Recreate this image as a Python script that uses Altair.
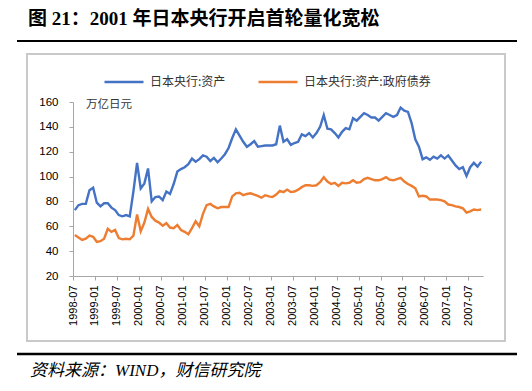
import json
import altair as alt
import pandas as pd

# ---- data -------------------------------------------------------------
months = [p.strftime("%Y-%m") for p in pd.period_range("1998-07", periods=112, freq="M")]

assets = [
    73, 77, 78, 78, 89, 91, 79, 76, 78.5, 78.5,
    75, 73, 69, 68, 69, 68, 88, 111, 90.5, 94.5,
    106.5, 80, 83.5, 84, 81, 88, 86, 94, 104, 106,
    107.5, 110, 114.5, 112, 114, 117, 116, 112.5, 115, 111.5,
    114.5, 118, 123, 131, 138, 133, 128, 124, 126, 128.5,
    124, 124.5, 125, 125, 125, 126, 141, 128, 130, 125.5,
    127, 128, 134, 132.5, 135, 131.5, 135, 140, 149.5, 138.5,
    138, 135, 131.5, 136, 139, 138, 147, 145, 148, 151,
    149.5, 147.5, 147.5, 145, 148, 151, 149.5, 148, 149.5, 155.5,
    153, 152, 143, 130, 124, 114, 115.5, 113.5, 116, 114.5,
    117, 114.5, 117, 113, 109, 106, 107.5, 100.5, 107.5, 111,
    108, 112,
]

govt_bonds = [
    53, 51, 49, 50, 52.5, 51.5, 47.5, 48, 50, 58,
    55.5, 57, 50.5, 49.5, 50, 49.5, 52.5, 69.5, 56, 63,
    74, 67.5, 64.5, 63, 60.5, 62.5, 59, 58.5, 61, 57,
    55.5, 53.5, 58.5, 64, 60, 70, 77, 78, 76, 74.5,
    75.5, 75.5, 75.5, 84, 86.5, 87, 85, 86, 86.5, 85.5,
    84.5, 83, 85, 84, 83.5, 85.5, 88.5, 87.5, 89.5, 87.5,
    88, 89.5, 91.5, 93, 93, 92.5, 93, 95.5, 99.5, 96,
    94, 95, 92.5, 95, 94.5, 95, 97, 95, 95.5, 98,
    99, 98, 97, 97, 98, 99.5, 97.5, 97, 98, 99,
    96, 94, 92.5, 90.5, 84, 84.5, 84, 81.5, 81.5, 81.5,
    81, 80, 77.5, 77, 76, 75.5, 74.5, 71, 72, 73.5,
    73, 73.5,
]

series_names = ["日本央行:资产", "日本央行:资产:政府债券"]
series_colors = ["#4472C4", "#ED7D31"]
y_ticks = [20, 40, 60, 80, 100, 120, 140, 160]
x_tick_pos = list(range(0, 109, 6))
x_tick_labels = [months[i] for i in x_tick_pos]

title_text = "图 21：2001 年日本央行开启首轮量化宽松"
unit_text = "万亿日元"
source_text = "资料来源：WIND，财信研究院"

# ---- table --------------------------------------------------------------
rows = []
for i, m in enumerate(months):
    rows.append({"pos": i + 0.5, "month": m, "value": assets[i], "series": series_names[0]})
for i, m in enumerate(months):
    rows.append({"pos": i + 0.5, "month": m, "value": govt_bonds[i], "series": series_names[1]})
df = pd.DataFrame(rows)

label_expr = json.dumps(x_tick_labels) + "[round(datum.value / 6)]"

AX_COLOR = "#a6a6a6"
NUM_FONT = "Liberation Sans"
CJK_FONT = "Noto Sans CJK SC"
FRAME = "#c9c9c9"

lines = alt.Chart(df).mark_line(strokeWidth=2.4).encode(
    x=alt.X(
        "pos:Q",
        scale=alt.Scale(domain=[0, 112], nice=False, zero=False),
        axis=alt.Axis(
            values=x_tick_pos, labelExpr=label_expr, labelAngle=270,
            tickSize=4, labelPadding=5, title=None, grid=False,
            domainColor=AX_COLOR, tickColor=AX_COLOR, labelColor="#000000",
            labelFont=NUM_FONT, labelFontSize=11, labelFlush=False,
            labelOverlap=False, labelBound=False,
        ),
    ),
    y=alt.Y(
        "value:Q",
        scale=alt.Scale(domain=[20, 160], nice=False, zero=False),
        axis=alt.Axis(
            values=y_ticks, tickSize=4, labelPadding=11, title=None, grid=False,
            domainColor=AX_COLOR, tickColor=AX_COLOR, labelColor="#000000",
            labelFont=NUM_FONT, labelFontSize=11.5,
        ),
    ),
    color=alt.Color(
        "series:N",
        scale=alt.Scale(domain=series_names, range=series_colors),
        legend=alt.Legend(
            orient="none", legendX=30, legendY=-41, direction="horizontal",
            title=None, symbolType="stroke", symbolSize=1521,
            symbolStrokeWidth=2.5, labelFont=CJK_FONT, labelFontSize=12,
            labelColor="#333333", columnPadding=27, labelOffset=5,
        ),
    ),
    order="pos:Q",
)

one = alt.Data(values=[{"k": 1}])

frame = alt.Chart(one).mark_rect(
    fill="#ffffff", fillOpacity=0, stroke=FRAME, strokeWidth=2, strokeOpacity=1
).encode(
    x=alt.value(-46), x2=alt.value(432), y=alt.value(-48), y2=alt.value(239)
)
top_rule = alt.Chart(one).mark_rule(color="#000000", strokeWidth=2).encode(
    x=alt.value(-56), x2=alt.value(444), y=alt.value(-61)
)
bottom_rule = alt.Chart(one).mark_rule(color="#000000", strokeWidth=2.5).encode(
    x=alt.value(-56), x2=alt.value(444), y=alt.value(252)
)
title = alt.Chart(one).mark_text(
    text=title_text, font="Liberation Serif, " + CJK_FONT, fontSize=19,
    fontWeight="bold", align="left", baseline="alphabetic", color="#000000",
).encode(x=alt.value(-45), y=alt.value(-77))
unit = alt.Chart(one).mark_text(
    text=unit_text, font=CJK_FONT, fontSize=11.5, align="left",
    baseline="middle", color="#333333",
).encode(x=alt.value(13), y=alt.value(3))
source = alt.Chart(one).mark_text(
    text=source_text, font="Liberation Serif, " + CJK_FONT, fontSize=17,
    fontStyle="italic", align="left", baseline="middle", color="#000000",
).encode(x=alt.value(-43), y=alt.value(269))

chart = alt.layer(
    frame, top_rule, bottom_rule, lines, title, unit, source,
).properties(
    width=410, height=174,
    padding={"left": 65, "top": 94, "right": 41, "bottom": 107},
    autosize=alt.AutoSizeParams(type="none"),
    background="#ffffff",
).configure_view(stroke=None)

chart.save("out.html", embed_options={"renderer": "svg", "actions": False})
